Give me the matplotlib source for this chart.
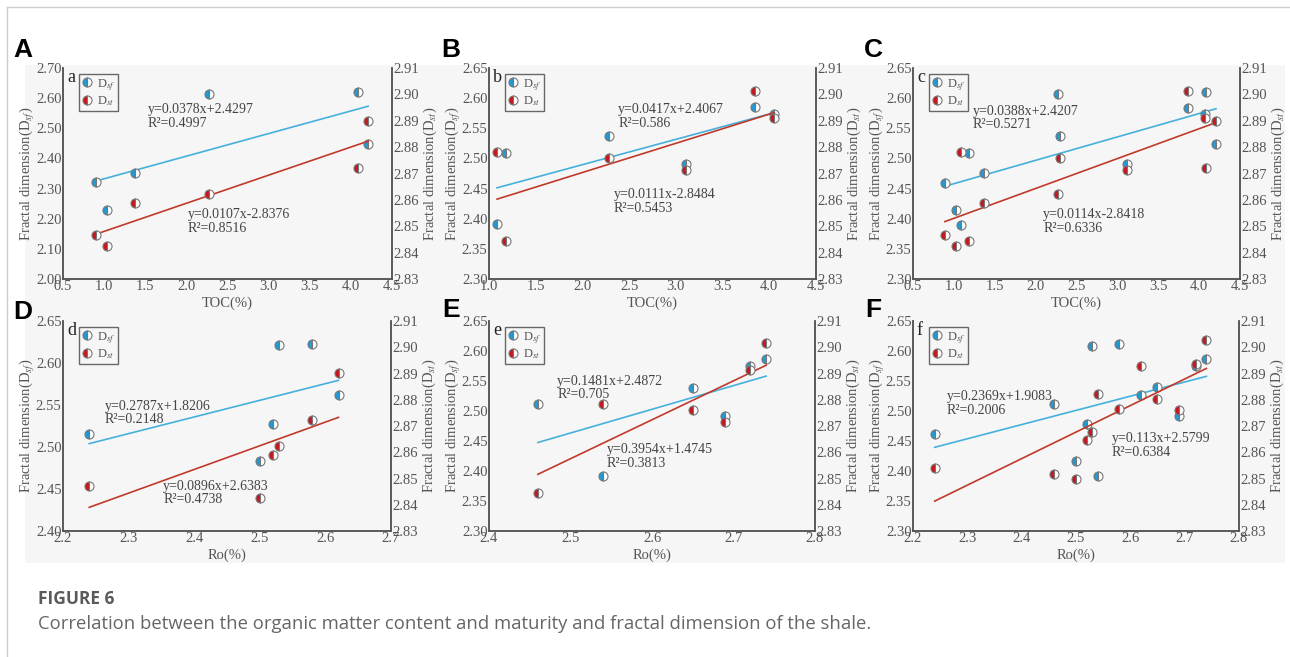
import numpy as np
import matplotlib
matplotlib.use("Agg")
import matplotlib.pyplot as plt
from matplotlib.patches import Rectangle
from matplotlib.lines import Line2D

plt.rcParams['font.family'] = ['Liberation Serif', 'DejaVu Serif']
plt.rcParams['mathtext.fontset'] = 'stix'

# --- data ---
toc_a = [0.90, 1.03, 1.37, 2.28, 4.09, 4.21]
dsf_a = [2.322, 2.230, 2.352, 2.615, 2.619, 2.448]
dst_a = [2.8468, 2.8424, 2.8588, 2.8624, 2.8720, 2.8899]

toc_b = [1.086, 1.186, 2.285, 3.112, 3.852, 4.052]
dsf_b = [2.391, 2.509, 2.538, 2.491, 2.585, 2.574]
dst_b = [2.8783, 2.8443, 2.8759, 2.8712, 2.9012, 2.8909]

toc_c = [0.89, 1.02, 1.085, 1.19, 1.365, 2.275, 2.30, 3.12, 3.87, 4.07, 4.09, 4.206]
dsf_c = [2.460, 2.415, 2.390, 2.509, 2.476, 2.607, 2.537, 2.490, 2.584, 2.573, 2.610, 2.524]
dst_c = [2.8468, 2.8424, 2.8783, 2.8443, 2.8588, 2.8622, 2.8759, 2.8712, 2.9012, 2.8909, 2.8721, 2.8899]

ro_d = [2.24, 2.50, 2.52, 2.53, 2.58, 2.62]
dsf_d = [2.516, 2.483, 2.527, 2.621, 2.623, 2.5615]
dst_d = [2.8470, 2.8426, 2.8591, 2.8625, 2.8724, 2.8903]

ro_e = [2.46, 2.54, 2.65, 2.69, 2.72, 2.74]
dsf_e = [2.511, 2.392, 2.539, 2.492, 2.575, 2.587]
dst_e = [2.8445, 2.8784, 2.8762, 2.8717, 2.8915, 2.9016]

ro_f = [2.24, 2.46, 2.50, 2.52, 2.53, 2.54, 2.58, 2.62, 2.65, 2.69, 2.72, 2.74]
dsf_f = [2.462, 2.511, 2.416, 2.478, 2.609, 2.392, 2.612, 2.526, 2.540, 2.491, 2.575, 2.587]
dst_f = [2.8541, 2.8518, 2.8498, 2.8645, 2.8676, 2.8821, 2.8766, 2.8927, 2.8802, 2.8760, 2.8937, 2.9029]

eq_sf = ["y=0.0378x+2.4297\nR²=0.4997", "y=0.0417x+2.4067\nR²=0.586", "y=0.0388x+2.4207\nR²=0.5271",
         "y=0.2787x+1.8206\nR²=0.2148", "y=0.1481x+2.4872\nR²=0.705", "y=0.2369x+1.9083\nR²=0.2006"]
eq_st = ["y=0.0107x-2.8376\nR²=0.8516", "y=0.0111x-2.8484\nR²=0.5453", "y=0.0114x-2.8418\nR²=0.6336",
         "y=0.0896x+2.6383\nR²=0.4738", "y=0.3954x+1.4745\nR²=0.3813", "y=0.113x+2.5799\nR²=0.6384"]

BLUE = '#1f9ad6'
RED = '#c8161d'
BLUE_LINE = '#45b0dc'
RED_LINE = '#c0392b'
GREY = '#555555'

W, H = 1290, 657
fig = plt.figure(figsize=(W / 100, H / 100), dpi=100)

# page frame and light backdrop of the figure image
fig.add_artist(Line2D([7 / W, 1], [1 - 7 / H, 1 - 7 / H], color='#cccccc', lw=1))
fig.add_artist(Line2D([7 / W, 7 / W], [0, 1 - 7 / H], color='#cccccc', lw=1))
fig.patches.append(Rectangle((25 / W, 1 - 563 / H), 1260 / W, 498 / H, transform=fig.transFigure,
                             facecolor='#f6f6f6', edgecolor='none', zorder=-10))


def px_axes(x0, x1, y0, y1):
    return fig.add_axes([x0 / W, 1 - y1 / H, (x1 - x0) / W, (y1 - y0) / H])


def panel(box, x, dsf, dst, xlim, xticks, ylim, yticks, xlabel, small, eq1, eq2, pos1, pos2, letter, letter_xy):
    ax = px_axes(*box)
    ax2 = ax.twinx()
    ax.patch.set_alpha(0)
    for a in (ax, ax2):
        a.spines['top'].set_visible(False)
        for s in ('left', 'right', 'bottom'):
            a.spines[s].set_color(GREY)
            a.spines[s].set_linewidth(1.1)
        a.tick_params(length=0, labelsize=10.5, labelcolor=GREY, pad=1)

    x = np.array(x)
    xs = np.array([x.min(), x.max()])
    k1, b1 = np.polyfit(x, dsf, 1)
    k2, b2 = np.polyfit(x, dst, 1)
    ax.plot(xs, k1 * xs + b1, color=BLUE_LINE, lw=1.2, zorder=2)
    ax2.plot(xs, k2 * xs + b2, color=RED_LINE, lw=1.2, zorder=2)

    mk = dict(ls='none', marker='o', ms=6.5, fillstyle='left', markerfacecoloralt='white',
              markeredgecolor='#777777', markeredgewidth=0.8, zorder=3)
    h1, = ax.plot(x, dsf, markerfacecolor=BLUE, label='D$_{sf}$', **mk)
    h2, = ax2.plot(x, dst, markerfacecolor=RED, label='D$_{st}$', **mk)

    ax.set_xlim(*xlim)
    ax.set_xticks(xticks)
    ax.set_xticklabels(['%.1f' % t for t in xticks])
    ax.set_ylim(*ylim)
    ax.set_yticks(yticks)
    ax.set_yticklabels(['%.2f' % t for t in yticks])
    yt2 = np.arange(2.83, 2.9101, 0.01)
    ax2.set_ylim(2.83, 2.91)
    ax2.set_yticks(yt2)
    ax2.set_yticklabels(['%.2f' % t for t in yt2])

    ax.set_xlabel(xlabel, fontsize=10.5, color=GREY, labelpad=2)
    ax.set_ylabel('Fractal dimension(D$_{sf}$)', fontsize=10.5, color=GREY, labelpad=-1)
    ax2.set_ylabel('Fractal dimension(D$_{st}$)', fontsize=10.5, color=GREY, rotation=90, labelpad=2)

    ax2.text(0.012, 0.995, small, transform=ax.transAxes, fontsize=13, va='top', ha='left', color='#222222')
    leg = ax2.legend([h1, h2], ['D$_{sf}$', 'D$_{st}$'], loc='upper left', bbox_to_anchor=(0.05, 0.97),
                     fontsize=9, frameon=True, fancybox=False, handlelength=0.8, handletextpad=0.4,
                     borderpad=0.2, labelspacing=0.15, borderaxespad=0)
    leg.get_frame().set_edgecolor('#444444')
    leg.get_frame().set_linewidth(1.0)
    leg.get_frame().set_facecolor('none')
    for t in leg.get_texts():
        t.set_color(GREY)

    ax2.text(pos1[0], pos1[1], eq1, transform=ax.transAxes, fontsize=10, color='#444444',
             va='top', ha='left', linespacing=1.05)
    ax2.text(pos2[0], pos2[1], eq2, transform=ax.transAxes, fontsize=10, color='#444444',
             va='top', ha='left', linespacing=1.05)

    fig.text(letter_xy[0] / W, 1 - letter_xy[1] / H, letter, fontsize=19, fontweight='bold',
             family='Liberation Sans', ha='center', va='center', color='black')


toc_ticks_a = np.arange(0.5, 4.51, 0.5)
toc_ticks_b = np.arange(1.0, 4.51, 0.5)
yl_a = np.arange(2.0, 2.701, 0.1)
yl_b = np.arange(2.30, 2.651, 0.05)

panel((63, 392, 68, 279), toc_a, dsf_a, dst_a, (0.5, 4.5), toc_ticks_a, (2.0, 2.7), yl_a, 'TOC(%)', 'a',
      eq_sf[0], eq_st[0], (0.258, 0.834), (0.38, 0.336), 'A', (23, 50))
panel((489, 816, 68, 279), toc_b, dsf_b, dst_b, (1.0, 4.5), toc_ticks_b, (2.3, 2.65), yl_b, 'TOC(%)', 'b',
      eq_sf[1], eq_st[1], (0.395, 0.834), (0.382, 0.431), 'B', (451, 50))
panel((913, 1240, 68, 279), toc_c, dsf_c, dst_c, (0.5, 4.5), toc_ticks_a, (2.3, 2.65), yl_b, 'TOC(%)', 'c',
      eq_sf[2], eq_st[2], (0.183, 0.825), (0.398, 0.336), 'C', (873, 50))
panel((63, 391, 321, 531), ro_d, dsf_d, dst_d, (2.2, 2.7), np.arange(2.2, 2.701, 0.1), (2.4, 2.65),
      np.arange(2.40, 2.651, 0.05), 'Ro(%)', 'd', eq_sf[3], eq_st[3], (0.128, 0.624), (0.305, 0.243), 'D', (23, 312))
panel((489, 815, 321, 531), ro_e, dsf_e, dst_e, (2.4, 2.8), np.arange(2.4, 2.801, 0.1), (2.3, 2.65), yl_b,
      'Ro(%)', 'e', eq_sf[4], eq_st[4], (0.209, 0.743), (0.362, 0.419), 'E', (451, 310))
panel((913, 1239, 321, 531), ro_f, dsf_f, dst_f, (2.2, 2.8), np.arange(2.2, 2.801, 0.1), (2.3, 2.65), yl_b,
      'Ro(%)', 'f', eq_sf[5], eq_st[5], (0.104, 0.671), (0.61, 0.471), 'F', (873, 310))

fig.text(38 / W, 1 - 599 / H, 'FIGURE 6', fontsize=12.5, fontweight='bold', family='Open Sans',
         color='#5a5a5a', va='center', ha='left')
fig.text(38 / W, 1 - 624 / H, 'Correlation between the organic matter content and maturity and fractal dimension of the shale.',
         fontsize=13.3, family='Open Sans', color='#666666', va='center', ha='left')

fig.savefig('out.png', dpi=100, facecolor='white')
